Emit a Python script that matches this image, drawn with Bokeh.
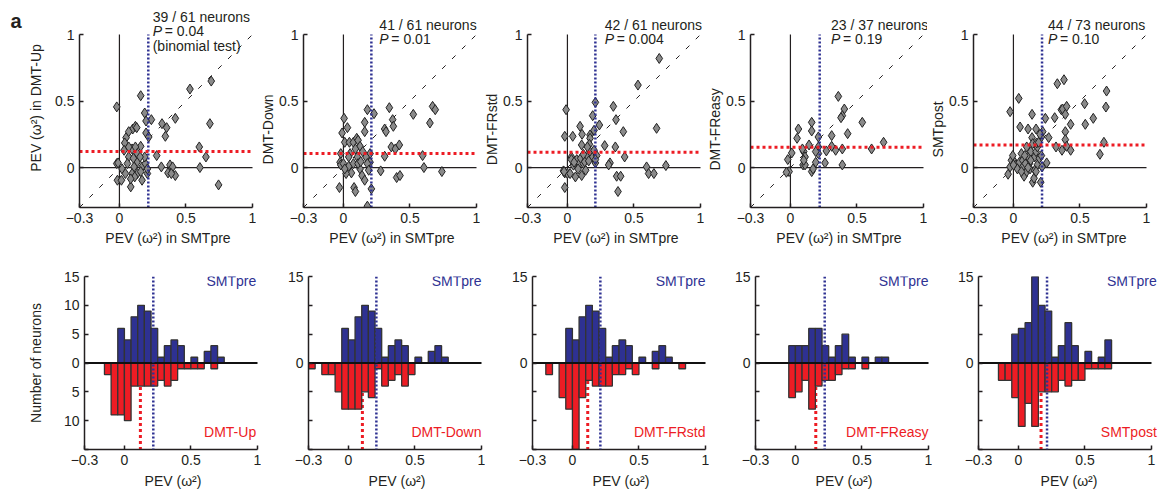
from bokeh.plotting import figure
from bokeh.layouts import row, column
from bokeh.models import FixedTicker, Label, Span, Range1d
from bokeh.embed import file_html
from bokeh.resources import INLINE

FONT = "Liberation Sans"
BLUE = "#2E3192"
RED = "#ED1C24"
INK = "#231F20"
PAD = "\u00a0"  # no-break space, used to nudge centred axis titles

# ---------------- data ----------------
cond_names = ["DMT-Up", "DMT-Down", "DMT-FRstd", "DMT-FReasy", "SMTpost"]
y_labels = ["PEV (ω²) in DMT-Up", "DMT-Down", "DMT-FRstd", "DMT-FReasy", "SMTpost"]
neuron_text = ["39 / 61 neurons", "41 / 61 neurons", "42 / 61 neurons", "23 / 37 neurons", "44 / 73 neurons"]
p_text = ["= 0.04", "= 0.01", "= 0.004", "= 0.19", "= 0.10"]

pre_median = [0.217, 0.21, 0.21, 0.22, 0.215]
cond_median = [0.12, 0.105, 0.115, 0.153, 0.17]

up_x = [-0.02, 0.16, 0.53, 0.69, 0.68, 0.19, 0.24, 0.20, 0.10, 0.12,
        0.32, 0.355, 0.345, 0.42, 0.20, 0.22, 0.05, 0.04, 0.16, 0.60,
        0.28, 0.65, 0.605, 0.745, 0.315, 0.365, 0.42, 0.38, 0.40, 0.39,
        -0.02, -0.01, -0.015, 0.015, 0.085, 0.17, 0.035, 0.07, 0.095, 0.12,
        0.06, 0.11, 0.135, 0.17, 0.195, 0.095, 0.135, 0.115, 0.085, 0.16,
        0.21, 0.21, 0.19, 0.135, 0.105, 0.02, 0.045, 0.155, 0.07, 0.07, 0.13]
up_y = [0.456, 0.54, 0.59, 0.65, 0.33, 0.41, 0.36, 0.35, 0.29, 0.31,
        0.33, 0.30, 0.235, 0.37, 0.26, 0.23, 0.225, 0.185, 0.16, 0.155,
        0.09, 0.08, 0.0, -0.13, 0.005, -0.04, -0.06, 0.02, 0.005, -0.045,
        0.03, 0.035, -0.095, -0.095, -0.145, -0.095, 0.13, 0.08, 0.14, 0.155,
        0.03, 0.005, 0.045, 0.005, 0.03, -0.045, -0.045, -0.07, -0.085, -0.03,
        -0.045, -0.01, 0.08, 0.105, 0.07, -0.01, -0.045, 0.08, 0.155, 0.27, 0.30]

down_x = [-0.03, 0.005, 0.03, -0.01, 0.01, 0.045, 0.075, 0.10, 0.11, 0.125,
          0.16, 0.16, 0.18, 0.23, 0.345, 0.31, 0.32, 0.37, 0.375, 0.36,
          0.39, 0.42, 0.525, 0.67, 0.69, 0.65, 0.595, 0.605, 0.74, 0.31,
          0.28, 0.40, 0.425, 0.20, 0.20, 0.21, 0.18, 0.08, 0.09, -0.02,
          -0.025, -0.02, 0.0, 0.04, 0.06, 0.075, 0.105, 0.125, 0.14, 0.16,
          0.17, 0.18, 0.19, 0.145, 0.09, 0.05, 0.04, 0.11, 0.02, 0.01, 0.13]
down_y = [-0.15, 0.37, 0.30, 0.26, 0.19, 0.19, 0.19, 0.22, 0.205, 0.16,
          0.34, 0.27, 0.435, 0.405, 0.45, 0.29, 0.27, 0.36, 0.31, 0.155,
          0.14, 0.17, 0.40, 0.46, 0.435, 0.335, 0.09, 0.0, -0.03, 0.085,
          -0.025, -0.075, -0.06, 0.105, 0.04, -0.16, -0.29, -0.15, -0.18, 0.105,
          0.04, 0.02, 0.03, 0.01, -0.04, 0.03, 0.08, -0.01, -0.06, -0.095,
          0.08, 0.03, -0.02, 0.12, 0.14, 0.105, 0.08, 0.03, -0.045, -0.01, 0.045]

frstd_x = [0.69, 0.53, 0.345, 0.365, 0.21, 0.19, 0.24, -0.01, -0.02, 0.04,
           0.095, 0.11, 0.107, 0.17, 0.17, 0.165, 0.20, 0.28, 0.36, 0.42,
           0.67, 0.43, 0.32, 0.31, 0.595, 0.61, 0.65, 0.74, 0.37, 0.40,
           0.38, -0.02, -0.03, -0.02, 0.0, 0.02, 0.06, 0.107, 0.137, 0.03,
           0.06, 0.07, 0.09, 0.10, 0.12, 0.15, 0.17, 0.19, 0.21, 0.22,
           0.045, 0.13, 0.08, 0.15, 0.03, 0.20, 0.12, -0.025, 0.05, 0.16, 0.21]
frstd_y = [0.82, 0.62, 0.46, 0.36, 0.49, 0.39, 0.32, 0.435, 0.235, 0.235,
           0.31, 0.25, 0.17, 0.245, 0.22, 0.175, 0.28, 0.165, 0.155, 0.27,
           0.295, 0.08, 0.035, 0.02, 0.005, -0.045, -0.045, 0.015, -0.065, -0.065,
           -0.18, -0.15, -0.025, -0.04, -0.045, -0.045, -0.07, -0.06, -0.02, 0.08,
           0.03, 0.06, 0.03, 0.07, 0.03, 0.08, 0.12, 0.08, 0.035, 0.09,
           0.018, 0.043, -0.01, 0.155, 0.06, 0.13, 0.10, -0.03, 0.04, 0.05, 0.06]

easy_x = [0.36, 0.405, 0.39, 0.38, 0.54, 0.43, 0.70, 0.61, 0.16, 0.16,
          0.06, 0.05, 0.14, 0.10, 0.21, 0.21, 0.31, 0.31, 0.34, 0.39,
          0.39, 0.27, 0.26, 0.21, 0.19, 0.11, 0.095, 0.11, 0.16, 0.17,
          0.01, -0.02, -0.01, -0.03, 0.09, 0.19, 0.10]
easy_y = [0.535, 0.44, 0.39, 0.375, 0.34, 0.255, 0.19, 0.14, 0.34, 0.275,
          0.29, 0.22, 0.17, 0.12, 0.23, 0.155, 0.24, 0.16, 0.13, 0.14,
          0.02, 0.125, 0.035, 0.105, 0.04, 0.08, 0.02, 0.02, -0.03, -0.01,
          0.11, 0.06, -0.03, -0.035, 0.14, 0.12, 0.055]

post_x = [-0.025, 0.04, 0.05, 0.14, 0.11, 0.17, 0.14, 0.22, 0.21, 0.24,
          0.265, 0.33, 0.38, 0.31, 0.36, 0.37, 0.40, 0.39, 0.43, 0.39,
          0.39, 0.40, 0.365, 0.43, 0.32, 0.535, 0.54, 0.60, 0.695, 0.70,
          0.68, 0.65, 0.25, -0.04, -0.025, -0.015, 0.01, 0.02, 0.045, 0.06,
          0.07, 0.08, 0.10, 0.11, 0.12, 0.13, 0.145, 0.155, 0.16, 0.17,
          0.18, 0.18, 0.195, 0.205, 0.125, 0.16, 0.07, 0.10, 0.145, 0.175,
          0.21, 0.19, 0.09, 0.03, -0.005, 0.215, 0.06, 0.13, 0.17, 0.11,
          0.20, 0.0, 0.085]
post_y = [0.42, 0.52, 0.305, 0.40, 0.29, 0.29, 0.225, 0.27, 0.23, 0.37,
          0.225, 0.63, 0.66, 0.375, 0.435, 0.44, 0.46, 0.40, 0.325, 0.27,
          0.21, 0.16, 0.13, 0.13, 0.155, 0.48, 0.325, 0.37, 0.455, 0.575,
          0.19, 0.10, 0.035, -0.05, 0.005, 0.055, 0.04, 0.02, 0.04, 0.105,
          0.055, -0.065, -0.03, 0.08, 0.03, 0.12, -0.11, -0.08, 0.08, 0.12,
          0.155, 0.02, 0.07, -0.11, -0.01, -0.02, 0.005, 0.155, 0.18, 0.185,
          0.09, 0.19, 0.03, -0.01, 0.09, 0.005, -0.03, 0.055, -0.03, 0.0,
          0.25, 0.02, 0.09]

# histogram: left edges of 0.05-wide bins
bin_left = [-0.30, -0.25, -0.20, -0.15, -0.10, -0.05, 0.00, 0.05, 0.10, 0.15, 0.20, 0.25,
            0.30, 0.35, 0.40, 0.45, 0.50, 0.55, 0.60, 0.65, 0.70, 0.75, 0.80]
BIN_W = 0.05
pre61_counts = [0, 0, 0, 0, 0, 6, 4, 8, 10, 9, 6, 1, 3, 4, 3, 0, 1, 0, 2, 3, 1, 0, 0]
pre37_counts = [0, 0, 0, 0, 0, 3, 3, 3, 6, 6, 3, 1, 3, 5, 1, 0, 1, 0, 1, 1, 0, 0, 0]
pre73_counts = [0, 0, 0, 0, 0, 5, 6, 7, 15, 10, 9, 1, 3, 7, 3, 0, 2, 0, 1, 4, 0, 0, 0]
up_counts = [0, 0, 0, 2, 9, 9, 10, 4, 4, 4, 4, 3, 4, 3, 1, 1, 1, 1, 0, 1, 0, 0, 0]
down_counts = [1, 0, 2, 2, 5, 8, 8, 8, 5, 6, 1, 4, 3, 2, 4, 2, 0, 0, 0, 0, 0, 0, 0]
frstd_counts = [0, 0, 2, 0, 6, 8, 15, 6, 3, 4, 4, 4, 2, 2, 1, 2, 0, 0, 1, 0, 0, 0, 1]
easy_counts = [0, 0, 0, 0, 0, 6, 5, 3, 8, 4, 3, 3, 2, 1, 1, 0, 1, 0, 0, 0, 0, 0, 0]
post_counts = [0, 0, 0, 3, 3, 6, 11, 7, 11, 5, 5, 5, 3, 4, 3, 3, 1, 1, 1, 1, 0, 0, 0]

scatter_x = [up_x, down_x, frstd_x, easy_x, post_x]
scatter_y = [up_y, down_y, frstd_y, easy_y, post_y]
pre_counts = [pre61_counts, pre61_counts, pre61_counts, pre37_counts, pre73_counts]
cond_counts = [up_counts, down_counts, frstd_counts, easy_counts, post_counts]

# ---------------- layout / style ----------------
LO, HI = -0.3, 1.0           # axis limits of PEV
HLO, HHI = -15, 15           # histogram count limits
FRAME = 173                  # px for the LO..HI span
PX = (HI - LO) / FRAME       # data units per pixel
TOP_EXTRA = 26               # px of frame above y = 1 (room for the texts)
L_B = [55, 47, 47, 46, 46]
R_EXTRA = [4, 4, 4, 4, 8]
text_x = [0.25, 0.27, 0.28, 0.305, 0.26]
hist_text_x = [0.99, 1.0, 1.0, 1.0, 1.04]
ylab_pad = [0, 11, 11, 11, 11]


def style_axes(p, ylabel_standoff):
    p.outline_line_color = None
    p.xgrid.visible = False
    p.ygrid.visible = False
    for ax in (p.xaxis[0], p.yaxis[0]):
        ax.axis_line_color = INK
        ax.axis_line_width = 1.5
        ax.major_tick_in = 4
        ax.major_tick_out = 0
        ax.major_tick_line_color = INK
        ax.major_tick_line_width = 1.5
        ax.minor_tick_line_color = None
        ax.major_label_text_font = FONT
        ax.major_label_text_font_size = "14px"
        ax.major_label_text_color = INK
        ax.major_label_standoff = 5
        ax.axis_label_text_font = FONT
        ax.axis_label_text_font_size = "14px"
        ax.axis_label_text_font_style = "normal"
        ax.axis_label_text_color = INK
    p.yaxis[0].axis_label_standoff = ylabel_standoff
    p.xaxis.ticker = FixedTicker(ticks=[-0.3, 0, 0.5, 1])
    p.xaxis.major_label_overrides = {-0.3: "−0.3", 0: "0", 0.5: "0.5", 1: "1"}
    p.xaxis.bounds = (LO, HI)


def lab(p, x, y, text, color=INK, align="left", style="normal", size="14px", xoff=0, baseline="middle"):
    p.add_layout(Label(x=x, y=y, text=text, text_font=FONT, text_font_size=size,
                       text_font_style=style, text_color=color, text_align=align,
                       text_baseline=baseline, x_offset=xoff))


tops = []
bottoms = []
for i in range(5):
    # ---------- scatter ----------
    p = figure(frame_width=FRAME + R_EXTRA[i], frame_height=FRAME + TOP_EXTRA,
               x_range=Range1d(LO, HI + R_EXTRA[i] * PX), y_range=Range1d(LO, HI + TOP_EXTRA * PX),
               output_backend="svg", toolbar_location=None,
               min_border_left=L_B[i], min_border_right=0, min_border_top=8, min_border_bottom=43)
    style_axes(p, 8 if i == 0 else 0)
    p.xaxis.axis_label = "PEV (ω²) in SMTpre"
    p.xaxis.axis_label_standoff = 4
    p.yaxis.axis_label = y_labels[i] + PAD * ylab_pad[i]
    p.yaxis.bounds = (LO, HI)
    p.yaxis.ticker = FixedTicker(ticks=[0, 0.5, 1])
    p.yaxis.major_label_overrides = {0: "0", 0.5: "0.5", 1: "1"}
    p.segment(x0=[0, LO], y0=[LO, 0], x1=[0, HI], y1=[HI, 0], line_color=INK, line_width=1.2)
    p.line(x=[LO, HI], y=[LO, HI], line_color=INK, line_width=1, line_dash="5 9")
    p.scatter(scatter_x[i], scatter_y[i], marker="diamond", size=10,
              fill_color="#8A8A8A", line_color="#222222", line_width=1)
    p.segment(x0=[pre_median[i]], y0=[LO], x1=[pre_median[i]], y1=[HI],
              line_color=BLUE, line_width=2.5, line_dash="2 2")
    p.segment(x0=[LO], y0=[cond_median[i]], x1=[HI], y1=[cond_median[i]],
              line_color=RED, line_width=3, line_dash="3 3")
    if i == 0:
        lab(p, text_x[i], 1.13, neuron_text[i])
        lab(p, text_x[i], 1.025, "P", style="italic")
        lab(p, text_x[i], 1.025, p_text[i], xoff=12)
        lab(p, text_x[i], 0.917, "(binomial test)")
    else:
        lab(p, text_x[i], 1.068, neuron_text[i])
        lab(p, text_x[i], 0.966, "P", style="italic")
        lab(p, text_x[i], 0.966, p_text[i], xoff=12)
    tops.append(p)

    # ---------- histogram ----------
    h = figure(frame_width=FRAME + R_EXTRA[i], frame_height=FRAME,
               x_range=Range1d(LO, HI + R_EXTRA[i] * PX), y_range=Range1d(HLO, HHI),
               output_backend="svg", toolbar_location=None,
               min_border_left=L_B[i], min_border_right=0, min_border_top=26, min_border_bottom=44)
    style_axes(h, 17)
    h.xaxis.axis_label = "PEV (ω²)"
    h.xaxis.axis_label_standoff = 5
    h.yaxis.ticker = FixedTicker(ticks=[-15, -10, -5, 0, 5, 10, 15])
    if i == 0:
        h.yaxis.axis_label = "Number of neurons"
        h.yaxis.major_label_overrides = {15: "15", 10: "10", 5: "5", 0: "0", -5: "5", -10: "10", -15: ""}
    else:
        h.yaxis.major_label_overrides = {15: "15", 10: "", 5: "", 0: "0", -5: "", -10: "", -15: ""}

    # condition median (behind bars)
    h.segment(x0=[cond_median[i]], y0=[0], x1=[cond_median[i]], y1=[HLO],
              line_color=RED, line_width=3, line_dash="3 3")

    pl = [b for b, c in zip(bin_left, pre_counts[i]) if c > 0]
    pc = [c for c in pre_counts[i] if c > 0]
    h.quad(left=pl, right=[b + BIN_W for b in pl], top=pc, bottom=0,
           fill_color=BLUE, line_color="#333333", line_width=1.3)
    cl = [b for b, c in zip(bin_left, cond_counts[i]) if c > 0]
    cc = [-c for c in cond_counts[i] if c > 0]
    h.quad(left=cl, right=[b + BIN_W for b in cl], top=0, bottom=cc,
           fill_color=RED, line_color="#333333", line_width=1.3)
    h.segment(x0=[LO], y0=[0], x1=[HI], y1=[0], line_color="#111111", line_width=2)
    h.add_layout(Span(location=pre_median[i], dimension="height", line_color=BLUE,
                      line_width=2.5, line_dash="2 2"))
    lab(h, hist_text_x[i], 14.3, "SMTpre", color=BLUE, align="right")
    lab(h, hist_text_x[i], -11.9, cond_names[i], color=RED, align="right")
    bottoms.append(h)

# narrow strip holding the panel letter
strip = figure(frame_width=24, frame_height=493, x_range=Range1d(0, 24), y_range=Range1d(493, 0),
               x_axis_type=None, y_axis_type=None, output_backend="svg", toolbar_location=None,
               min_border=0)
strip.outline_line_color = None
strip.grid.visible = False
lab(strip, 10, 20, "a", style="bold", size="20px", baseline="alphabetic")

layout = row(strip, column(row(*tops), row(*bottoms)))

with open("out.html", "w") as f:
    f.write(file_html(layout, INLINE))
